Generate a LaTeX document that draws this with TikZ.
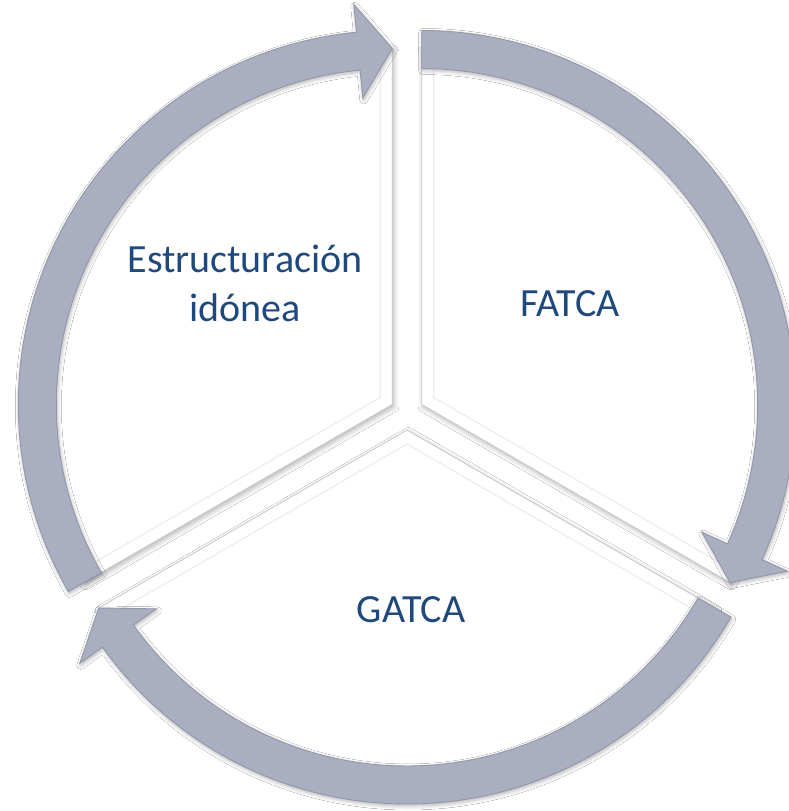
\documentclass[tikz,border=0pt]{standalone}
\usepackage{fontspec}
\setmainfont{Carlito}
\usetikzlibrary{calc,shadows.blur}
\definecolor{arrowfill}{RGB}{169,174,192}
\definecolor{arrowline}{RGB}{146,151,170}
\definecolor{txtblue}{RGB}{31,73,125}
\tikzset{
  segment/.style={fill=white, draw=black!22, line width=0.8pt,
    blur shadow={shadow xshift=1.5pt, shadow yshift=-2.5pt, shadow opacity=30, shadow blur radius=5pt, shadow blur steps=6}},
  bevel/.style={draw=black!7, line width=1.2pt},
  cyclearrow/.style={fill=arrowfill, draw=arrowline, line width=0.9pt, line join=miter,
    blur shadow={shadow xshift=1pt, shadow yshift=-2pt, shadow opacity=30, shadow blur radius=4pt, shadow blur steps=6}},
  lbl/.style={text=txtblue, font=\fontsize{40}{49}\selectfont, align=center, inner sep=0pt}
}
\newcommand\cyclearrowpath[3]{% center, start angle, tip angle (clockwise)
  \pgfmathsetmacro\headbase{#3+5.5}
  \path[cyclearrow] ($(#1)+(#2:374pt)$) arc[start angle=#2, end angle=\headbase, radius=374pt]
    -- ($(#1)+(\headbase:402pt)$) -- ($(#1)+(#3:356pt)$) -- ($(#1)+(\headbase:308pt)$)
    -- ($(#1)+(\headbase:336pt)$) arc[start angle=\headbase, end angle=#2, radius=336pt] -- cycle;
}
\newcommand\wedgepath[4]{% center, start angle, end angle, bisector angle
  \path[segment] (#1) -- ($(#1)+(#2:356pt)$) arc[start angle=#2, end angle=#3, radius=356pt] -- cycle;
  \path[bevel] ($(#1)+(#4:14pt)+(#2:330pt)$) -- ($(#1)+(#4:14pt)$) -- ($(#1)+(#4:14pt)+(#3:330pt)$);
}
\begin{document}
\begin{tikzpicture}[x=1pt,y=1pt]
\useasboundingbox (0,0) rectangle (789,811);
\fill[white] (0,0) rectangle (789,811);
\coordinate (L) at (392.3,406.5);
\coordinate (R) at (421.7,406.5);
\coordinate (B) at (407,381);
% segments
\wedgepath{L}{90}{210}{150}
\wedgepath{R}{-30}{90}{30}
\wedgepath{B}{210}{330}{270}
% arrows
\cyclearrowpath{R}{90}{-30}
\cyclearrowpath{B}{330}{210}
\cyclearrowpath{L}{210}{90}
% labels
\node[lbl, anchor=base] (estructuracion) at (245,489) {Estructuración\\idónea};
\node[lbl, anchor=base] (fatca) at (570,494) {FATCA};
\node[lbl, anchor=base] (gatca) at (411,188) {GATCA};
\end{tikzpicture}
\end{document}
